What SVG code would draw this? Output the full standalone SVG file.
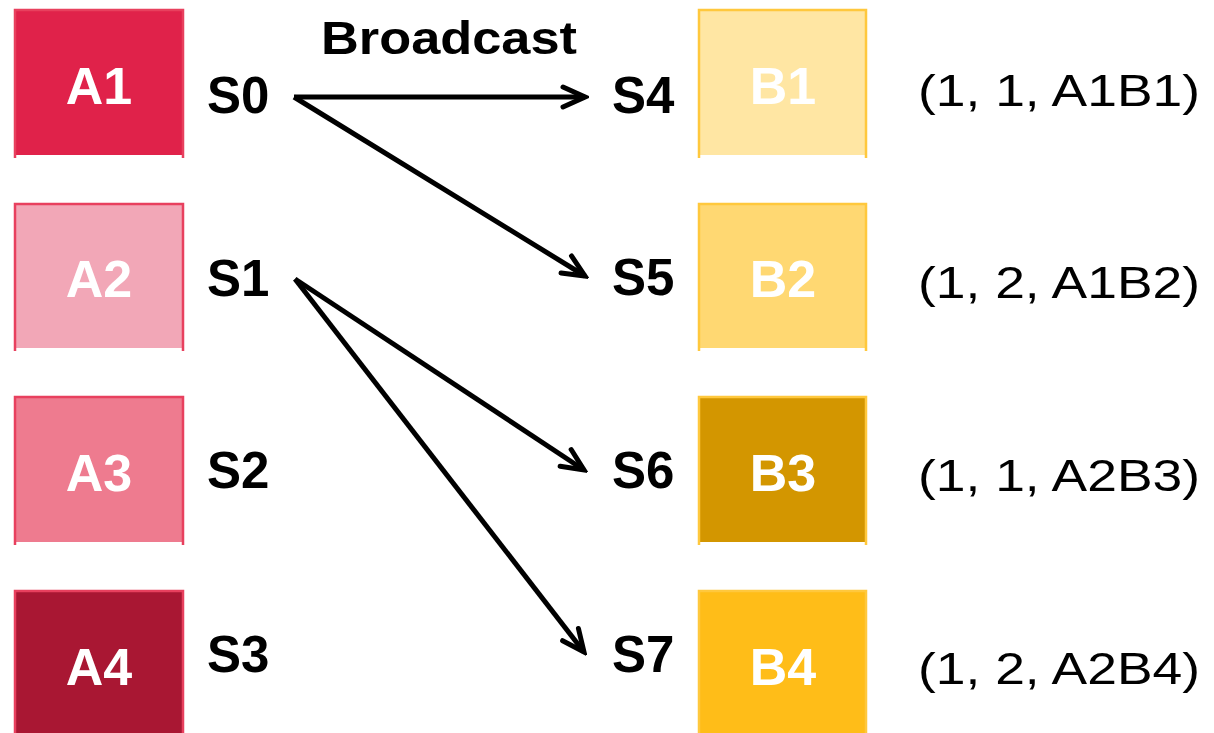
<svg xmlns="http://www.w3.org/2000/svg" width="1214" height="733" viewBox="0 0 1214 733">
  <style>
    .box-label { font-family: "Liberation Sans", Arial, sans-serif; font-weight: bold; font-size: 52px; fill: #ffffff; text-anchor: middle; }
    .slot { font-family: "Liberation Sans", Arial, sans-serif; font-weight: bold; font-size: 51px; fill: #000000; }
    .title { font-family: "Liberation Sans", Arial, sans-serif; font-weight: bold; font-size: 46px; fill: #000000; }
    .tuple { font-family: "Liberation Sans", Arial, sans-serif; font-size: 45px; fill: #000000; }
    .edge-a { fill: none; stroke: #E8405E; stroke-width: 2.5; }
    .edge-b { fill: none; stroke: #FFC83D; stroke-width: 2.5; }
    .conn { fill: none; stroke: #000000; stroke-width: 5; marker-end: url(#chev); }
  </style>
  <defs>
    <marker id="chev" markerUnits="userSpaceOnUse" markerWidth="30" markerHeight="30" viewBox="-26 -15 30 30" refX="0" refY="0" orient="auto">
      <polyline points="-22,-10 0,0 -22,10" fill="none" stroke="#000" stroke-width="5" stroke-linecap="round" stroke-linejoin="miter"/>
    </marker>
  </defs>
  <rect width="1214" height="733" fill="#ffffff"/>

  <!-- left column: A blocks -->
  <g id="A1">
    <rect x="15" y="10" width="168" height="145" fill="#E0224A"/>
    <path class="edge-a" d="M15,158 V10 H183 V158"/>
    <text class="box-label" x="99" y="104">A1</text>
  </g>
  <g id="A2">
    <rect x="15" y="204" width="168" height="144" fill="#F2A7B7"/>
    <path class="edge-a" d="M15,351 V204 H183 V351"/>
    <text class="box-label" x="99" y="297">A2</text>
  </g>
  <g id="A3">
    <rect x="15" y="397" width="168" height="145" fill="#EE7B8F"/>
    <path class="edge-a" d="M15,545 V397 H183 V545"/>
    <text class="box-label" x="99" y="491">A3</text>
  </g>
  <g id="A4">
    <rect x="15" y="591" width="168" height="145" fill="#A91733"/>
    <path class="edge-a" d="M15,740 V591 H183 V740"/>
    <text class="box-label" x="99" y="685">A4</text>
  </g>

  <!-- source slots -->
  <g id="S0"><text class="slot" x="207" y="113">S0</text></g>
  <g id="S1"><text class="slot" x="207" y="296">S1</text></g>
  <g id="S2"><text class="slot" x="207" y="488">S2</text></g>
  <g id="S3"><text class="slot" x="207" y="672">S3</text></g>

  <!-- destination slots -->
  <g id="S4"><text class="slot" x="612" y="113">S4</text></g>
  <g id="S5"><text class="slot" x="612" y="295">S5</text></g>
  <g id="S6"><text class="slot" x="612" y="488">S6</text></g>
  <g id="S7"><text class="slot" x="612" y="672">S7</text></g>

  <!-- right column: B blocks -->
  <g id="B1">
    <rect x="699" y="10" width="167" height="145" fill="#FFE6A3"/>
    <path class="edge-b" d="M699,158 V10 H866 V158"/>
    <text class="box-label" x="783" y="104">B1</text>
  </g>
  <g id="B2">
    <rect x="699" y="204" width="167" height="144" fill="#FFD872"/>
    <path class="edge-b" d="M699,351 V204 H866 V351"/>
    <text class="box-label" x="783" y="297">B2</text>
  </g>
  <g id="B3">
    <rect x="699" y="397" width="167" height="145" fill="#D39600"/>
    <path class="edge-b" d="M699,545 V397 H866 V545"/>
    <text class="box-label" x="783" y="491">B3</text>
  </g>
  <g id="B4">
    <rect x="699" y="591" width="167" height="145" fill="#FFBD18"/>
    <path class="edge-b" d="M699,740 V591 H866 V740"/>
    <text class="box-label" x="783" y="685">B4</text>
  </g>

  <!-- result tuples -->
  <g id="tuples">
    <text class="tuple" x="918" y="106" textLength="282" lengthAdjust="spacingAndGlyphs">(1, 1, A1B1)</text>
    <text class="tuple" x="918" y="298" textLength="282" lengthAdjust="spacingAndGlyphs">(1, 2, A1B2)</text>
    <text class="tuple" x="918" y="491" textLength="282" lengthAdjust="spacingAndGlyphs">(1, 1, A2B3)</text>
    <text class="tuple" x="918" y="684" textLength="282" lengthAdjust="spacingAndGlyphs">(1, 2, A2B4)</text>
  </g>

  <text class="title" x="321" y="54" textLength="256" lengthAdjust="spacingAndGlyphs">Broadcast</text>

  <!-- broadcast connectors -->
  <g id="connectors">
    <line class="conn" x1="294" y1="97" x2="585" y2="97"/>
    <line class="conn" x1="294" y1="97" x2="585" y2="276"/>
    <line class="conn" x1="295" y1="279" x2="584" y2="470"/>
    <line class="conn" x1="295" y1="279" x2="584" y2="652"/>
  </g>
</svg>
